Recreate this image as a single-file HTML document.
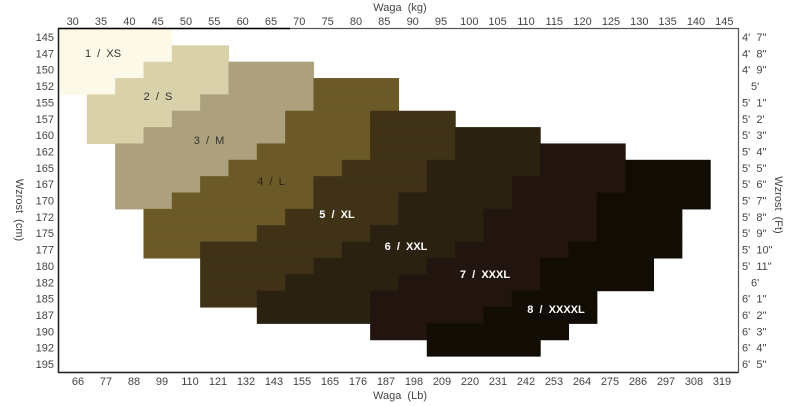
<!DOCTYPE html>
<html><head><meta charset="utf-8"><style>
body{margin:0;background:#fff;}
svg{display:block;font-family:"Liberation Sans",Arial,sans-serif;}
text{white-space:pre;}
</style></head><body>
<svg id="s" width="800" height="406" viewBox="0 0 800 406" xmlns="http://www.w3.org/2000/svg">
<g id="cells"></g>
<g id="labels"></g>
</svg>
<script>
const NS="http://www.w3.org/2000/svg";
const X0=58.5,CW=28.33,Y0=29,RH=16.35;
const cols=["#fcf9e8","#d9d1a9","#aca17c","#6b5a28","#3f3217","#2a2110","#22150f","#120d04"];
const R=[
[[[0,0]],4],
[[[0,0],[1,4]],6],
[[[0,0],[1,3],[2,6]],9],
[[[0,0],[1,2],[2,6],[3,9]],12],
[[[1,1],[2,5],[3,9]],12],
[[[1,1],[2,4],[3,8],[4,11]],14],
[[[1,1],[2,3],[3,8],[4,11],[5,14]],17],
[[[2,2],[3,7],[4,11],[5,14],[6,17]],20],
[[[2,2],[3,6],[4,10],[5,13],[6,17],[7,20]],23],
[[[2,2],[3,5],[4,9],[5,13],[6,16],[7,20]],23],
[[[2,2],[3,4],[4,9],[5,12],[6,16],[7,19]],23],
[[[3,3],[4,8],[5,12],[6,15],[7,19]],22],
[[[3,3],[4,7],[5,11],[6,15],[7,19]],22],
[[[3,3],[4,5],[5,10],[6,14],[7,18]],22],
[[[4,5],[5,9],[6,13],[7,17]],21],
[[[4,5],[5,8],[6,12],[7,17]],21],
[[[4,5],[5,7],[6,11],[7,16]],19],
[[[5,7],[6,11],[7,15]],19],
[[[6,11],[7,13]],18],
[[[7,13]],17]
];
const g=document.getElementById("cells");
function el(t,a,p,txt){const e=document.createElementNS(NS,t);for(const k in a)e.setAttribute(k,a[k]);if(txt!==undefined)e.textContent=txt;(p||g).appendChild(e);return e;}
R.forEach((r,i)=>{const segs=r[0],end=r[1];
 segs.forEach((s,j)=>{const e=j+1<segs.length?segs[j+1][1]:end;
  const x=X0+s[1]*CW, w=(e-s[1])*CW;
  el("rect",{x:x.toFixed(2),y:(Y0+i*RH).toFixed(2),width:(w+0.6).toFixed(2),height:(RH+0.6).toFixed(2),fill:cols[s[0]]});
 });
});
const L=document.getElementById("labels");
el("rect",{x:58.5,y:28.5,width:680,height:344,fill:"none",stroke:"#555","stroke-width":1.2},L);
el("line",{x1:58,y1:28.5,x2:290,y2:28.5,stroke:"#000","stroke-width":1.5},L);
el("line",{x1:58.5,y1:28,x2:58.5,y2:373,stroke:"#222","stroke-width":1.5},L);
el("line",{x1:58,y1:372.5,x2:738,y2:372.5,stroke:"#222","stroke-width":1.5},L);
const tc="#444";
for(let j=0;j<24;j++){
 el("text",{x:(72.7+CW*j).toFixed(1),y:25,"font-size":11,fill:tc,"text-anchor":"middle"},L,String(30+5*j));
}
const lb=[66,77,88,99,110,121,132,143,155,165,176,187,198,209,220,231,242,253,264,275,286,297,308,319];
lb.forEach((v,j)=>el("text",{x:(78+28*j).toFixed(1),y:385,"font-size":11,fill:tc,"text-anchor":"middle"},L,String(v)));
const cm=[145,147,150,152,155,157,160,162,165,167,170,172,175,177,180,182,185,187,190,192,195];
const ft=["4'  7\"","4'  8\"","4'  9\"","5'","5'  1\"","5'  2'","5'  3\"","5'  4\"","5'  5\"","5'  6\"","5'  7\"","5'  8\"","5'  9\"","5'  10\"","5'  11\"","6'","6'  1\"","6'  2\"","6'  3\"","6'  4\"","6'  5\""];
cm.forEach((v,i)=>{const y=(Y0+i*RH+12).toFixed(1);
 el("text",{x:54,y:y,"font-size":11,fill:tc,"text-anchor":"end"},L,String(v));
 const f=ft[i];
 if(f.length<=2) el("text",{x:751,y:y,"font-size":11,fill:tc},L,f);
 else el("text",{x:742,y:y,"font-size":11,fill:tc},L,f);
});
el("text",{x:400,y:11,"font-size":11,fill:tc,"text-anchor":"middle"},L,"Waga  (kg)");
el("text",{x:400,y:399,"font-size":11,fill:tc,"text-anchor":"middle"},L,"Waga  (Lb)");
el("text",{x:0,y:0,"font-size":11,fill:tc,"text-anchor":"middle",transform:"translate(16,210) rotate(90)"},L,"Wzrost  (cm)");
el("text",{x:0,y:0,"font-size":11,fill:tc,"text-anchor":"middle",transform:"translate(775,205) rotate(90)"},L,"Wzrost  (Ft)");
const lab=[["1  /  XS",103,57,"#333",false],["2  /  S",158,100,"#333",false],["3  /  M",209,144,"#333",false],["4  /  L",271,185,"#2a220f",false],
["5  /  XL",337,218,"#fff",true],["6  /  XXL",406,250,"#fff",true],["7  /  XXXL",485,278,"#fff",true],["8  /  XXXXL",556,313,"#fff",true]];
lab.forEach(a=>el("text",{x:a[1],y:a[2],"font-size":11,fill:a[3],"text-anchor":"middle","font-weight":a[4]?"bold":"normal"},L,a[0]));
</script>
</body></html>
